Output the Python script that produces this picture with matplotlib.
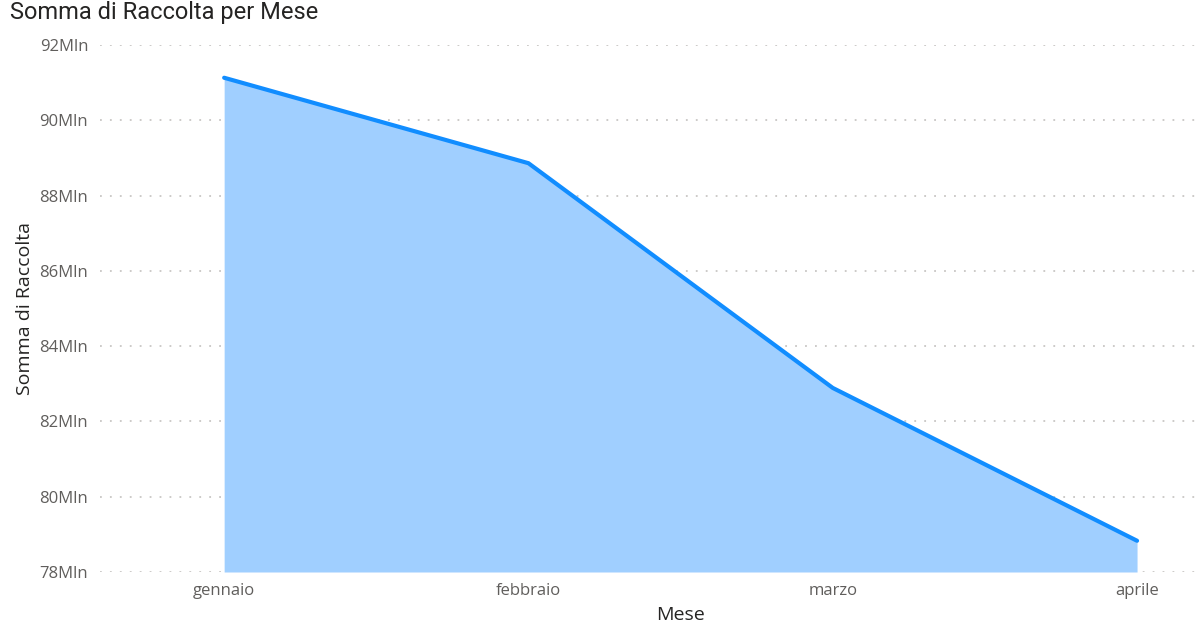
import matplotlib
matplotlib.use("Agg")
import matplotlib.pyplot as plt

months = ["gennaio", "febbraio", "marzo", "aprile"]
values = [91.13, 88.86, 82.89, 78.83]  # milioni
yticks = [78, 80, 82, 84, 86, 88, 90, 92]
ytick_labels = [f"{v}Mln" for v in yticks]

fig = plt.figure(figsize=(12, 6.3), dpi=100)
ax = fig.add_axes([100/1200, 58/630, 1097/1200, 527/630])

x = list(range(len(months)))
ax.fill_between(x, values, 78, color="#A0CFFF", linewidth=0, zorder=2)
ax.plot(x, values, color="#118DFF", linewidth=3, solid_capstyle="round", zorder=3)

ax.set_xlim(-0.408, 3.197)
ax.set_ylim(78, 92)
ax.set_yticks(yticks)
ax.set_yticklabels(ytick_labels)
ax.set_xticks(x)
ax.set_xticklabels(months)

ax.grid(axis="y", color="#C8C6C4", linestyle=(0, (1, 4.5)), linewidth=1.3, zorder=1)
ax.grid(axis="x", visible=False)
for s in ax.spines.values():
    s.set_visible(False)
ax.tick_params(axis="both", length=0, labelsize=12, labelcolor="#605E5C")
ax.tick_params(axis="y", pad=8.5)
ax.tick_params(axis="x", pad=8)

for lab in ax.get_yticklabels() + ax.get_xticklabels():
    lab.set_family(["Open Sans", "DejaVu Sans"])

ax.set_xlabel("Mese", fontsize=14, color="#252423", labelpad=4,
              family=["Open Sans", "DejaVu Sans"])
ax.xaxis.set_label_coords(0.529, -0.065)
ax.set_ylabel("Somma di Raccolta", fontsize=14, color="#252423", labelpad=4,
              family=["Open Sans", "DejaVu Sans"])

fig.text(10/1200, 1 - 13/630, "Somma di Raccolta per Mese", fontsize=17,
         color="#252423", ha="left", va="center", family=["Roboto", "DejaVu Sans"])

fig.savefig("out.png", dpi=100)
